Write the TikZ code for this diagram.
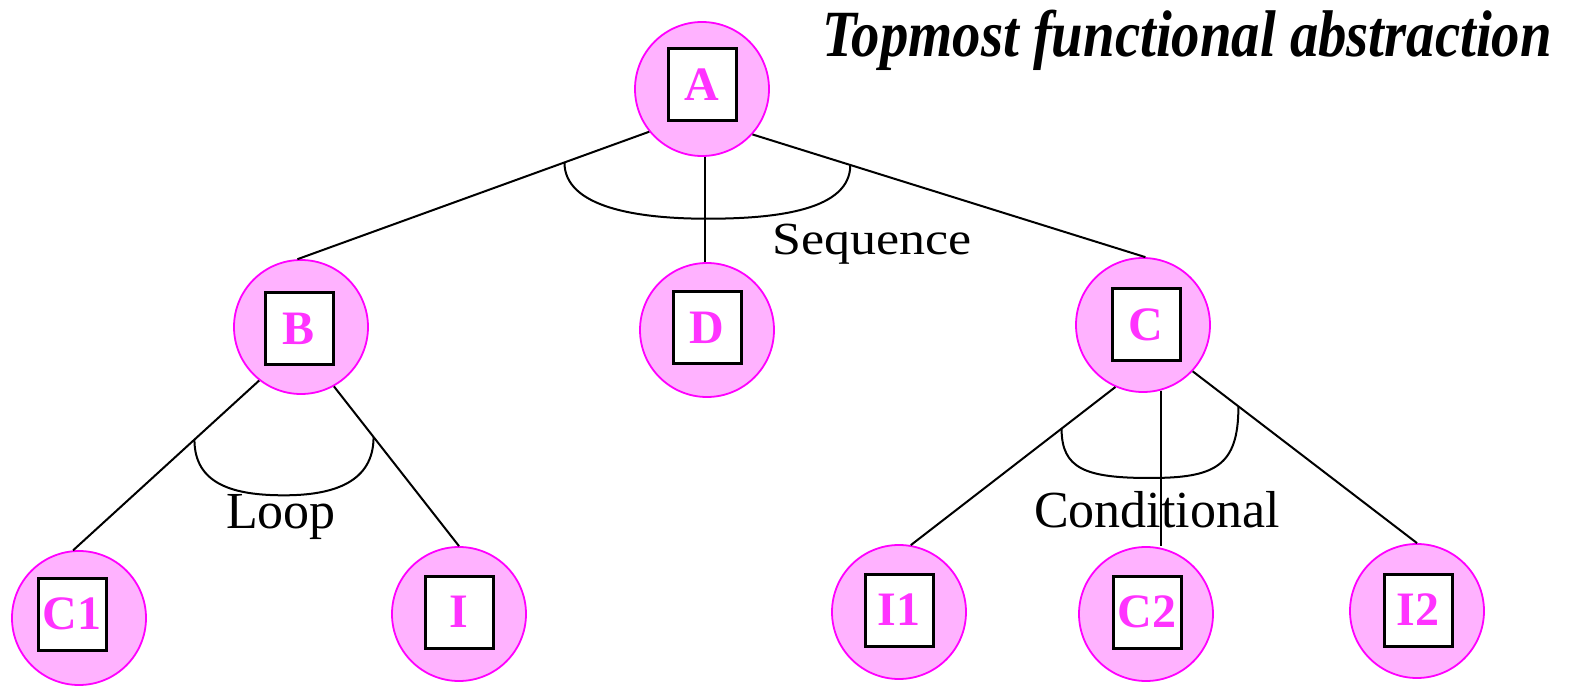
\documentclass[tikz,border=0pt]{standalone}
\usepackage{fontspec}
\setmainfont{Liberation Serif}
\usetikzlibrary{calc}
\definecolor{nodefill}{RGB}{255,178,255}
\definecolor{nodeedge}{RGB}{255,0,255}
\definecolor{nodetext}{RGB}{255,51,255}
\begin{document}
\begin{tikzpicture}[x=1pt,y=-1pt,
  bubble/.style={circle,fill=nodefill,draw=nodeedge,line width=1.8pt,minimum size=134pt,inner sep=0pt},
  tag/.style={rectangle,fill=white,draw=black,line width=3pt,minimum width=68pt,minimum height=72pt,inner sep=0pt,text=nodetext,font=\fontsize{48}{50}\selectfont\bfseries},
  link/.style={line width=2pt},
  arcline/.style={line width=2pt},
  lbl/.style={font=\fontsize{52}{60}\selectfont,inner sep=0pt,anchor=base}]
\useasboundingbox (0,0) rectangle (1575,692);

% title
\node[anchor=base,inner sep=0pt,font=\fontsize{66}{70}\selectfont\bfseries\itshape] (title) at (1187,57)
  {\scalebox{0.86}[1]{Topmost functional abstraction}};

% circles
\node[bubble] (A)  at (702,89)  {};
\node[bubble] (B)  at (301,327) {};
\node[bubble] (D)  at (707,330) {};
\node[bubble] (C)  at (1143,325) {};
\node[bubble] (C1) at (79,618)  {};
\node[bubble] (I)  at (459,614) {};
\node[bubble] (I1) at (899,612) {};
\node[bubble] (C2) at (1146,614) {};
\node[bubble] (I2) at (1417,611) {};

% boxed names
\node[tag] (Atag)  at (702,85)  {A};
\node[tag] (Btag)  at (299,329) {B};
\node[tag] (Dtag)  at (707,328) {D};
\node[tag] (Ctag)  at (1146,325) {C};
\node[tag] (C1tag) at (72,614)  {C1};
\node[tag] (Itag)  at (459,612) {I};
\node[tag] (I1tag) at (899,610) {I1};
\node[tag] (C2tag) at (1147,612) {C2};
\node[tag] (I2tag) at (1418,610) {I2};

% edges from A
\draw[link] (A.219) -- (B.93) coordinate[pos=0.241] (seqL);
\draw[link] (A.south -| D.north) ++(-2,0) coordinate (Afoot) -- (Afoot |- D.north);
\draw[link] (A.-42) -- (C.88) coordinate[pos=0.249] (seqR);

% edges from B
\draw[link] (B.232) -- (C1.95) coordinate[pos=0.348] (loopL);
\draw[link] (B.-61) -- (I.north) coordinate[pos=0.317] (loopR);

% edges from C
\draw[link] (C.246) -- (I1.80) coordinate[pos=0.263] (condL);
\draw[link] (C.-75) -- (C.-75 |- C2.north);
\draw[link] (C.-43) -- (I2.north) coordinate[pos=0.204] (condR);

% arcs grouping the branches
\coordinate (seqB) at ($($(seqL)!0.5!(seqR)$)+(0,55)$);
\draw[arcline] (seqL) .. controls ($(seqL)+(0,45)$) and ($(seqB)+(-70,0)$) .. (seqB)
  .. controls ($(seqB)+(70,0)$) and ($(seqR)+(0,45)$) .. (seqR);

\coordinate (loopB) at ($($(loopL)!0.5!(loopR)$)+(0,57)$);
\draw[arcline] (loopL) .. controls ($(loopL)+(0,45)$) and ($(loopB)+(-50,0)$) .. (loopB)
  .. controls ($(loopB)+(50,0)$) and ($(loopR)+(0,45)$) .. (loopR);

\coordinate (condB) at (1150,478);
\draw[arcline] (condL) .. controls ($(condL)+(0,40)$) and ($(condB)+(-65,0)$) .. (condB)
  .. controls ($(condB)+(65,0)$) and ($(condR)+(0,60)$) .. (condR);

% labels
\node[lbl] (seqlabel) at (872,255) {\fontsize{46}{50}\selectfont\scalebox{1.13}[1]{Sequence}};
\node[lbl] (looplabel) at (281,528) {Loop};
\node[lbl] (condlabel) at (1157,527) {Conditional};

% the middle conditional branch runs over its label
\draw[link] (C.-75) -- (C.-75 |- C2.north);
\end{tikzpicture}
\end{document}
